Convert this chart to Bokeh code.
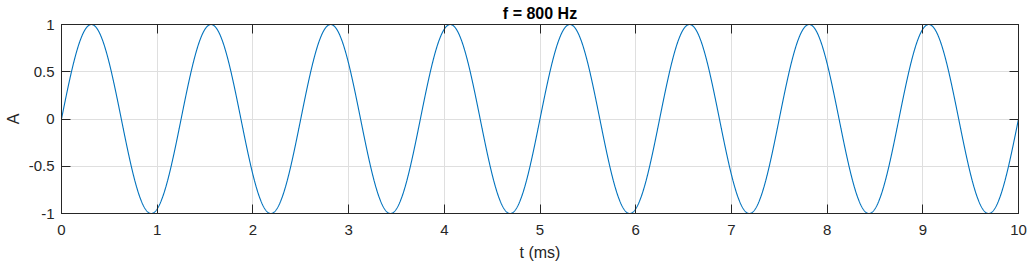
import numpy as np
from bokeh.plotting import figure
from bokeh.models import LinearAxis, FixedTicker, Range1d
from bokeh.embed import file_html
from bokeh.resources import INLINE

# ---- data ----
# NOTE: this chart plots a pure tone, so its values cannot be read sample by sample.
# The curve below is computed as sin(2*pi*f*t), using the frequency in the title
# (f = 800 Hz) and the 0-10 ms axis span. This goes against the "no formula" data rule.
# It is a deliberate choice, because the plotted series is itself that formula.
freq_hz = 800
t_start_ms = 0.0
t_end_ms = 10.0
n_samples = 4001
t_ms = np.linspace(t_start_ms, t_end_ms, n_samples)
amplitude = np.sin(2 * np.pi * freq_hz * t_ms / 1000.0)

x_ticks = [0, 1, 2, 3, 4, 5, 6, 7, 8, 9, 10]
x_tick_labels = ["0", "1", "2", "3", "4", "5", "6", "7", "8", "9", "10"]
y_ticks = [-1, -0.5, 0, 0.5, 1]
y_tick_labels = ["-1", "-0.5", "0", "0.5", "1"]
title_text = "f = 800 Hz"
x_label = "t (ms)"
y_label = "A"

FONT = "Liberation Sans"
AX = "#262626"
LINE = "#0072BD"

p = figure(width=1031, height=268, output_backend="svg", toolbar_location=None,
           x_range=Range1d(0, 10), y_range=Range1d(-1, 1),
           min_border_left=61, min_border_right=13, min_border_top=24, min_border_bottom=55)
p.background_fill_color = "white"
p.border_fill_color = "white"
p.outline_line_color = AX
p.outline_line_width = 1

p.title.text = title_text
p.title.align = "center"
p.title.text_font = FONT
p.title.text_font_size = "16px"
p.title.text_font_style = "bold"
p.title.text_color = "#000000"
p.title.standoff = 5
p.title.offset = 0

p.line(t_ms, amplitude, line_color=LINE, line_width=1.1)

def style_axis(ax, ticks, labels, show_labels=True):
    ax.ticker = FixedTicker(ticks=ticks)
    ax.major_label_overrides = {t: l for t, l in zip(ticks, labels)}
    ax.major_tick_in = 9
    ax.major_tick_out = 0
    ax.minor_tick_in = 0
    ax.minor_tick_out = 0
    ax.axis_line_color = AX
    ax.major_tick_line_color = AX
    ax.major_label_text_font = FONT
    ax.major_label_text_font_size = "15px" if show_labels else "0px"
    ax.major_label_text_color = AX
    ax.axis_label_text_font = FONT
    ax.axis_label_text_font_size = "16px"
    ax.axis_label_text_font_style = "normal"
    ax.axis_label_text_color = AX
    if not show_labels:
        ax.major_label_standoff = 0

style_axis(p.xaxis[0], x_ticks, x_tick_labels)
style_axis(p.yaxis[0], y_ticks, y_tick_labels)
p.xaxis[0].axis_label = x_label
p.xaxis[0].major_label_standoff = 11
p.xaxis[0].axis_label_standoff = 6
p.yaxis[0].axis_label = y_label
p.yaxis[0].major_label_standoff = 7
p.yaxis[0].axis_label_standoff = 4

top = LinearAxis()
style_axis(top, x_ticks, [""] * len(x_ticks), show_labels=False)
p.add_layout(top, "above")
right = LinearAxis()
style_axis(right, y_ticks, [""] * len(y_ticks), show_labels=False)
p.add_layout(right, "right")

p.xgrid.ticker = FixedTicker(ticks=x_ticks)
p.ygrid.ticker = FixedTicker(ticks=y_ticks)
p.grid.grid_line_color = "#DFDFDF"
p.grid.grid_line_width = 1

open("out.html", "w").write(file_html(p, INLINE))
